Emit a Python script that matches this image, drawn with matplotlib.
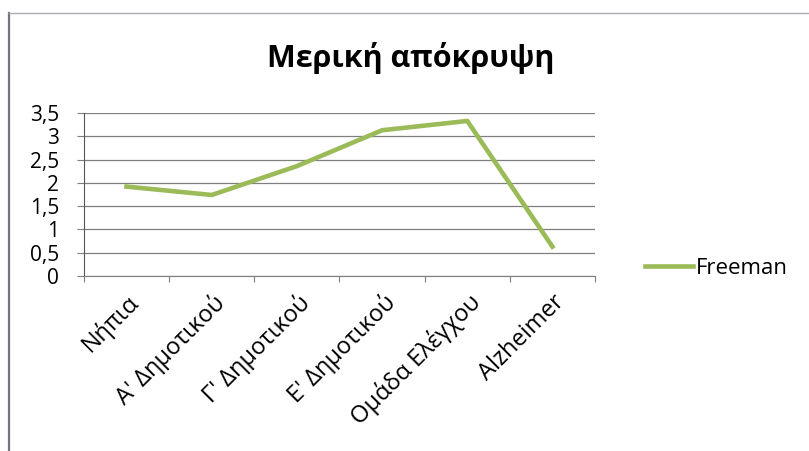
import matplotlib
matplotlib.use("Agg")
import matplotlib.pyplot as plt
from matplotlib.lines import Line2D
import numpy as np

plt.rcParams['font.family'] = ['Open Sans', 'DejaVu Sans']

# data
categories = ['Νήπια', "Α' Δημοτικού", "Γ' Δημοτικού", "Ε' Δημοτικού", 'Ομάδα Ελέγχου', 'Alzheimer']
freeman = [1.92, 1.74, 2.36, 3.13, 3.33, 0.63]
yticks = [0, 0.5, 1, 1.5, 2, 2.5, 3, 3.5]
ytick_labels = ['0', '0,5', '1', '1,5', '2', '2,5', '3', '3,5']

fig = plt.figure(figsize=(8.09, 4.51), dpi=100)
fig.patch.set_facecolor('white')

# chart frame (only left and top edges visible in the scan)
fig.lines.append(Line2D([9 / 809, 9 / 809], [0, 1 - 13 / 451], transform=fig.transFigure,
                        color='#6f7580', linewidth=1.6))
fig.lines.append(Line2D([9 / 809, 1], [1 - 13 / 451, 1 - 13 / 451], transform=fig.transFigure,
                        color='#a9adb5', linewidth=1.0))

ax = fig.add_axes([0.1038, 0.388, 0.6317, 0.3614])
x = np.arange(len(categories)) + 0.5
ax.plot(x, freeman, color='#9BBB59', linewidth=3.3, label='Freeman')

ax.set_xlim(0, len(categories))
ax.set_ylim(0, 3.5)
ax.set_yticks(yticks)
ax.set_yticklabels(ytick_labels, fontsize=15)
ax.yaxis.grid(True, color='#7f7f7f', linewidth=0.9)
ax.set_axisbelow(True)

ax.set_xticks(np.arange(len(categories) + 1))
ax.set_xticklabels([])
ax.set_xticks(x, minor=True)
ax.set_xticklabels(categories, minor=True, rotation=45, ha='right', rotation_mode='anchor',
                   fontsize=17)
ax.tick_params(axis='x', which='minor', length=0, pad=10)
ax.tick_params(axis='x', which='major', length=4, color='#7f7f7f')
ax.tick_params(axis='y', length=5, color='#7f7f7f', pad=13)

for s in ['top', 'right']:
    ax.spines[s].set_visible(False)
ax.spines['left'].set_color('#555555')
ax.spines['bottom'].set_color('#7f7f7f')

fig.text(0.508, 0.872, 'Μερική απόκρυψη', ha='center', va='center', fontsize=22, fontweight='bold')

fig.legend(loc='center left', bbox_to_anchor=(0.772, 0.405), frameon=False, fontsize=16,
           handlelength=2.2, handletextpad=0.1)

fig.savefig('out.png', dpi=100)
